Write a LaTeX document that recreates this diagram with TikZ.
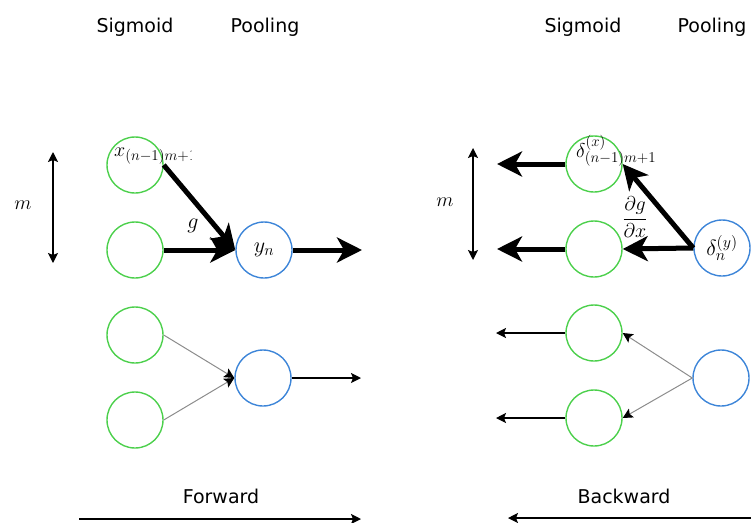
\RequirePackage{fix-cm}
\documentclass[tikz,border=0pt]{standalone}
\usepackage{fontspec}
\usetikzlibrary{arrows.meta}
\newfontfamily\headfont{DejaVu Sans}
\DeclareMathSizes{22}{22}{16}{12}
\DeclareMathSizes{20}{20}{15}{11}
\definecolor{sigc}{RGB}{76,208,76}
\definecolor{poolc}{RGB}{61,133,216}
\definecolor{linkc}{RGB}{140,140,140}
\tikzset{
  sig/.style={circle, draw=sigc, line width=1.4pt, minimum size=56pt, inner sep=0pt},
  pool/.style={circle, draw=poolc, line width=1.4pt, minimum size=56pt, inner sep=0pt,
    font=\fontsize{22}{26}\selectfont},
  heading/.style={anchor=base, font=\headfont\fontsize{19}{22}\selectfont},
  lbl/.style={font=\fontsize{20}{24}\selectfont, inner sep=0pt},
  biglbl/.style={font=\fontsize{22}{26}\selectfont, inner sep=0pt},
  bigarrow/.style={line width=5pt, -{Stealth[length=25pt,width=25pt,inset=7pt]}},
  thinarrow/.style={line width=1.3pt, -{Stealth[length=10pt,width=10pt,inset=2pt]}},
  boththin/.style={line width=1.3pt, {Stealth[length=10pt,width=10pt,inset=2pt]}-{Stealth[length=10pt,width=10pt,inset=2pt]}},
  greyarrow/.style={draw=linkc, line width=1pt, -{Stealth[length=10pt,width=10pt,inset=2pt,color=black]}},
}
\begin{document}
\begin{tikzpicture}[x=1pt,y=-1pt]
\useasboundingbox (0,0) rectangle (751,522);

% column headings
\node[heading] (hs1) at (135,32) {Sigmoid};
\node[heading] (hp1) at (265,32) {Pooling};
\node[heading] (hs2) at (583,32) {Sigmoid};
\node[heading] (hp2) at (712,32) {Pooling};

% ---------------- forward pass ----------------
\node[sig] (L1) at (135,165) {};
\node[sig] (L2) at (135,250) {};
\node[sig] (L3) at (135,335) {};
\node[sig] (L4) at (135,420) {};
\node[pool] (LP1) at (264,250) {$y_n$};
\node[pool] (LP2) at (263,378) {};

% the input label is cut off at the edge of its text box
\begin{scope}
  \clip (100,130) rectangle (191,175);
  \node[lbl, anchor=base west] (xl) at (114,156) {$x_{(n-1)m+1}$};
\end{scope}
\node[biglbl] (gl) at (193,226) {$g$};
\node[lbl] (ml) at (23,205) {$m$};

\coordinate (mt1) at (53,152);
\coordinate (mb1) at (53,263);
\draw[boththin] (mt1) -- (mb1);

\coordinate (yout) at (362,250);
\draw[bigarrow] (L1.east) -- (LP1.west);
\draw[bigarrow] (L2.east) -- (LP1.west);
\draw[bigarrow] (LP1.east) -- (yout);

\coordinate (yout2) at (361,378);
\draw[greyarrow] (L3.east) -- (LP2.west);
\draw[greyarrow] (L4.east) -- (LP2.west);
\draw[thinarrow] (LP2.east) -- (yout2);

\node[heading] (fw) at (221,503) {Forward};
\coordinate (fa) at (79,519);
\coordinate (fb) at (361,519);
\draw[thinarrow] (fa) -- (fb);

% ---------------- backward pass ----------------
\node[sig] (R1) at (594,164) {};
\node[sig] (R2) at (594,249) {};
\node[sig] (R3) at (594,333) {};
\node[sig] (R4) at (594,418) {};
\node[pool] (RP1) at (722,248) {$\delta^{(y)}_n$};
\node[pool] (RP2) at (721,378) {};

\node[lbl, anchor=base west] (dl) at (576,157) {$\delta^{(x)}_{(n-1)m+1}$};
\node[lbl] (dg) at (635,217) {$\displaystyle\frac{\partial g}{\partial x}$};
\node[lbl] (mr) at (445,202) {$m$};

\coordinate (mt2) at (473,148);
\coordinate (mb2) at (473,260);
\draw[boththin] (mt2) -- (mb2);

\coordinate (bo1) at (497,164);
\coordinate (bo2) at (497,249);
\draw[bigarrow] (R1.west) -- (bo1);
\draw[bigarrow] (R2.west) -- (bo2);
\draw[bigarrow] (RP1.west) -- (R2.east);
\draw[bigarrow] (RP1.west) -- (R1.east);

\coordinate (bo3) at (496,333);
\coordinate (bo4) at (496,418);
\draw[thinarrow] (R3.west) -- (bo3);
\draw[thinarrow] (R4.west) -- (bo4);
\draw[greyarrow] (RP2.west) -- (R3.east);
\draw[greyarrow] (RP2.west) -- (R4.east);

\node[heading] (bw) at (624,503) {Backward};
\coordinate (ba) at (760,518);
\coordinate (bb) at (508,518);
\draw[thinarrow] (ba) -- (bb);
\end{tikzpicture}
\end{document}
